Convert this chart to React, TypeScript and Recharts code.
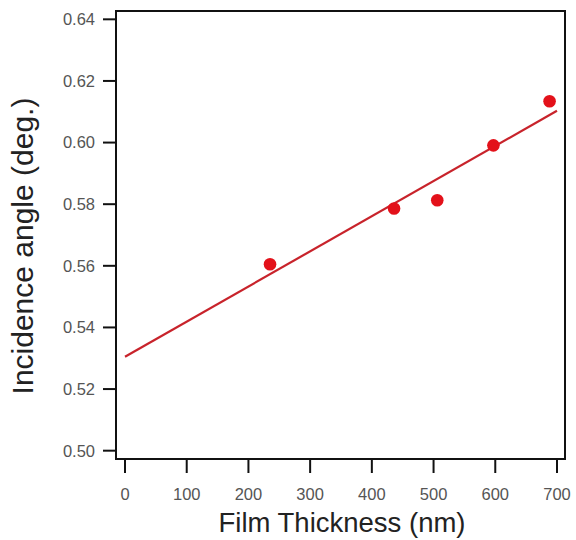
import React from 'react';
import { ScatterChart, Scatter, XAxis, YAxis, Label, ReferenceArea } from 'recharts';

const thickness = [235, 436, 506, 597, 688];
const angle = [0.5605, 0.5786, 0.5813, 0.5991, 0.6134];
const fitX = [0, 700];
const fitY = [0.5305, 0.6103];
const xTicks = [0, 100, 200, 300, 400, 500, 600, 700];
const yTicks = [0.5, 0.52, 0.54, 0.56, 0.58, 0.6, 0.62, 0.64];
const xDomain = [-14.6, 713];
const yDomain = [0.4973, 0.6427];

const points = thickness.map((x, i) => ({ x, y: angle[i] }));
const fit = fitX.map((x, i) => ({ x, y: fitY[i] }));

const FONT = '"Liberation Sans", Arial, Helvetica, sans-serif';

const Dot = (props: any) => <circle cx={props.cx} cy={props.cy} r={6.3} fill="#e3111a" />;
const NoDot = () => <g />;

export default function App() {
  return (
    <div style={{ position: 'absolute', left: 0, top: 0, width: 576, height: 540, background: '#fff' }}>
      <ScatterChart width={576} height={540} margin={{ top: 11, right: 11, bottom: 0, left: 0 }}>
        <XAxis
          dataKey="x"
          type="number"
          domain={xDomain}
          ticks={xTicks}
          allowDataOverflow
          height={81}
          tickSize={14}
          tickMargin={15}
          axisLine={{ stroke: '#111', strokeWidth: 2 }}
          tickLine={{ stroke: '#111', strokeWidth: 2 }}
          tick={{ fill: '#555', fontSize: 16.5, fontFamily: FONT }}
        >
          <Label
            content={() => (
              <text x={342} y={532} textAnchor="middle" fontSize={27.5} fontFamily={FONT} fill="#222">
                Film Thickness (nm)
              </text>
            )}
          />
        </XAxis>
        <YAxis
          dataKey="y"
          type="number"
          domain={yDomain}
          ticks={yTicks}
          allowDataOverflow
          width={116}
          tickSize={13}
          tickMargin={8}
          tickFormatter={(v: number) => v.toFixed(2)}
          axisLine={{ stroke: '#111', strokeWidth: 2 }}
          tickLine={{ stroke: '#111', strokeWidth: 2 }}
          tick={{ fill: '#555', fontSize: 16.5, fontFamily: FONT }}
        >
          <Label
            content={() => (
              <text
                x={33}
                y={246}
                textAnchor="middle"
                fontSize={30}
                fontFamily={FONT}
                fill="#222"
                transform="rotate(-90 33 246)"
              >
                Incidence angle (deg.)
              </text>
            )}
          />
        </YAxis>
        <ReferenceArea
          x1={xDomain[0]}
          x2={xDomain[1]}
          y1={yDomain[0]}
          y2={yDomain[1]}
          fill="none"
          fillOpacity={0}
          stroke="#111"
          strokeWidth={2}
          ifOverflow="visible"
        />
        <Scatter
          data={fit}
          line={{ stroke: '#c8232b', strokeWidth: 2.2 }}
          shape={NoDot}
          isAnimationActive={false}
        />
        <Scatter data={points} shape={Dot} isAnimationActive={false} />
      </ScatterChart>
    </div>
  );
}
